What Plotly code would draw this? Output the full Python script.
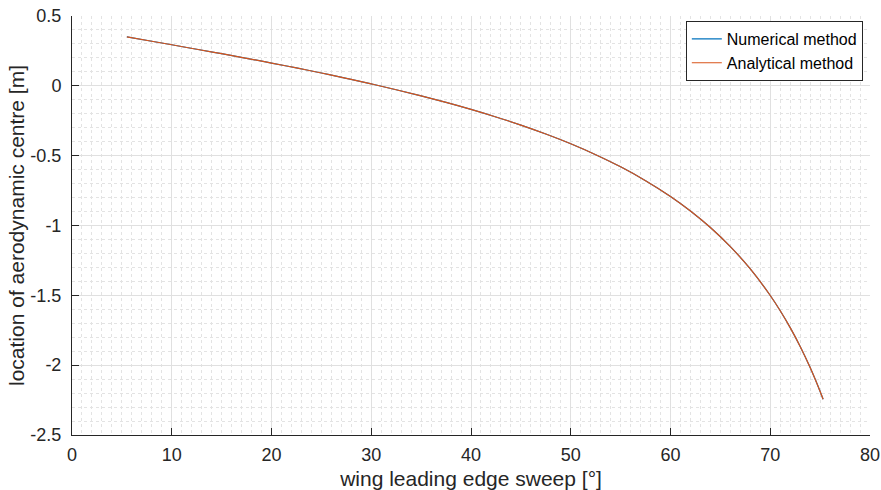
import plotly.graph_objects as go

# Wing leading-edge sweep angle [deg]
sweep_deg = [5.5, 8, 10, 12.5, 15, 17.5, 20, 22.5, 25, 27.5, 30, 32.5, 35, 37.5,
             40, 42.5, 45, 47.5, 50, 52.5, 55, 57.5, 60, 62, 64, 66, 68, 70,
             71, 72, 73, 74, 75, 75.3]

# Location of aerodynamic centre [m], numerical solution
x_ac_numerical = [0.350, 0.319, 0.294, 0.262, 0.230, 0.197, 0.163, 0.128, 0.092,
                  0.054, 0.014, -0.028, -0.072, -0.119, -0.169, -0.223, -0.281,
                  -0.345, -0.415, -0.493, -0.580, -0.679, -0.792, -0.896, -1.014,
                  -1.151, -1.311, -1.501, -1.610, -1.731, -1.866, -2.017, -2.188,
                  -2.244]

# Location of aerodynamic centre [m], analytical solution
x_ac_analytical = [0.350, 0.319, 0.294, 0.262, 0.230, 0.197, 0.163, 0.128, 0.092,
                   0.054, 0.014, -0.028, -0.072, -0.119, -0.169, -0.223, -0.281,
                   -0.345, -0.415, -0.493, -0.580, -0.679, -0.792, -0.896, -1.014,
                   -1.151, -1.311, -1.501, -1.610, -1.731, -1.866, -2.017, -2.188,
                   -2.244]

x_ticks = [0, 10, 20, 30, 40, 50, 60, 70, 80]
x_tick_labels = ["0", "10", "20", "30", "40", "50", "60", "70", "80"]
y_ticks = [-2.5, -2, -1.5, -1, -0.5, 0, 0.5]
y_tick_labels = ["-2.5", "-2", "-1.5", "-1", "-0.5", "0", "0.5"]

FONT = "Liberation Sans, Arial, Helvetica, sans-serif"
AXIS_COLOR = "#262626"
GRID_MAJOR = "#e0e0e0"
GRID_MINOR = "#e3e3e3"

fig = go.Figure()
fig.add_trace(go.Scatter(
    x=sweep_deg, y=x_ac_numerical, mode="lines", name="Numerical method",
    line=dict(color="#0072BD", width=1.2, shape="spline"),
))
fig.add_trace(go.Scatter(
    x=sweep_deg, y=x_ac_analytical, mode="lines", name="Analytical method",
    line=dict(color="#D95319", width=1.2, shape="spline"),
))

axis_common = dict(
    showline=True, linecolor=AXIS_COLOR, linewidth=1, mirror=False,
    ticks="inside", ticklen=7, tickcolor=AXIS_COLOR, tickwidth=1,
    showgrid=True, gridcolor=GRID_MAJOR, gridwidth=1,
    zeroline=False, automargin=False,
    tickfont=dict(family=FONT, size=18, color=AXIS_COLOR),
)

fig.update_xaxes(
    range=[0, 80], tickmode="array", tickvals=x_ticks, ticktext=x_tick_labels,
    title=dict(text="wing leading edge sweep [°]",
               font=dict(family=FONT, size=21, color=AXIS_COLOR), standoff=8),
    minor=dict(dtick=1, showgrid=True, gridcolor=GRID_MINOR, griddash="dot",
               gridwidth=1, ticks=""),
    ticklabelstandoff=3,
    **axis_common,
)
fig.update_yaxes(
    range=[-2.5, 0.5], tickmode="array", tickvals=y_ticks, ticktext=y_tick_labels,
    title=dict(text="location of aerodynamic centre [m]",
               font=dict(family=FONT, size=21, color=AXIS_COLOR), standoff=0),
    minor=dict(dtick=0.1, tick0=-2.5, showgrid=True, gridcolor=GRID_MINOR,
               griddash="dot", gridwidth=1, ticks=""),
    ticklabelstandoff=6,
    **axis_common,
)

fig.update_layout(
    width=881, height=490,
    margin=dict(l=72, r=11, t=16, b=55, autoexpand=False),
    plot_bgcolor="white", paper_bgcolor="white",
    font=dict(family=FONT, color=AXIS_COLOR),
    legend=dict(
        x=0.991, y=0.988, xanchor="right", yanchor="top",
        bgcolor="white", bordercolor=AXIS_COLOR, borderwidth=1,
        font=dict(family=FONT, size=16, color="black"),
        itemwidth=30, tracegroupgap=0,
    ),
    showlegend=True,
)

fig.write_html("out.html")
